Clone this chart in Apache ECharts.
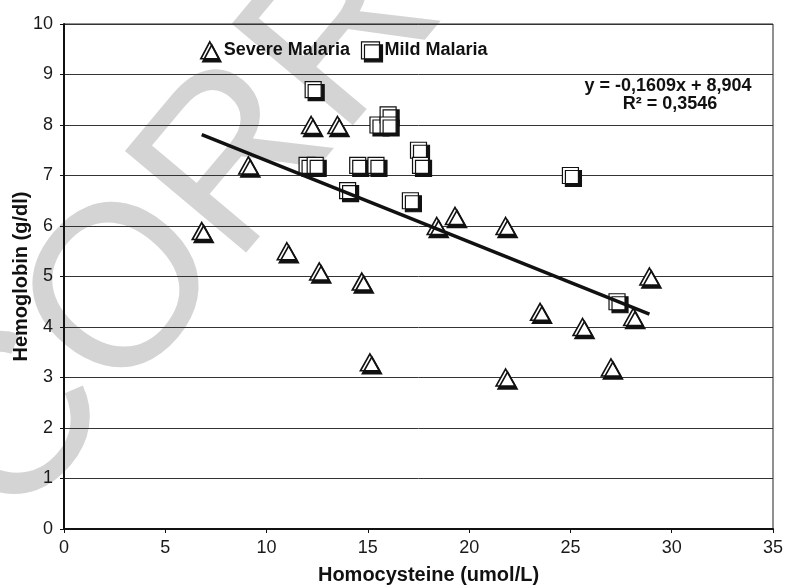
<!DOCTYPE html>
<html>
<head>
<meta charset="utf-8">
<title>Hemoglobin vs Homocysteine</title>
<script src="https://cdn.jsdelivr.net/npm/echarts@6.0.0/dist/echarts.min.js"></script>
<style>
  html, body { margin: 0; padding: 0; background: #ffffff; }
  #chart { width: 786px; height: 585px; }
</style>
</head>
<body>
<div id="chart"></div>
<script>
// severe malaria (triangles)
var severeX = [6.8, 9.1, 11.0, 12.6, 12.2, 13.5, 14.7, 15.1, 18.4, 19.3, 21.8, 21.8, 23.5, 25.6, 27.0, 28.1, 28.9];
var severeY = [5.9, 7.2, 5.5, 5.1, 8.0, 8.0, 4.9, 3.3, 6.0, 6.2, 6.0, 3.0, 4.3, 4.0, 3.2, 4.2, 5.0];
// mild malaria (squares)
var mildX = [12.3, 15.5, 16.0, 16.0, 12.0, 12.4, 14.5, 15.4, 17.5, 17.6, 14.0, 17.1, 25.0, 27.3];
var mildY = [8.7, 8.0, 8.2, 8.0, 7.2, 7.2, 7.2, 7.2, 7.5, 7.2, 6.7, 6.5, 7.0, 4.5];
// linear trend line, as printed on the chart
var trendSlope = -0.1609;
var trendIntercept = 8.904;
var trendLabels = ['y = -0,1609x + 8,904', 'R² = 0,3546'];
var xTicks = [0, 35, 5];   // min, max, step
var yTicks = [0, 10, 1];
var watermark = 'UNCORRECTED PROOF';

var FONT = '"Liberation Sans", Arial, Helvetica, sans-serif';

function pairs (xs, ys) {
  var out = [];
  for (var i = 0; i < xs.length; i++) {
    out.push([xs[i], ys[i]]);
  }
  return out
}

// trend runs over the full x range of all points
var allX = severeX.concat(mildX);
var xLo = Math.min.apply(null, allX);
var xHi = Math.max.apply(null, allX);
var trendData = [
  [xLo, trendSlope * xLo + trendIntercept],
  [xHi, trendSlope * xHi + trendIntercept]
];

// same outline + hard drop shadow look for markers and legend icons
var triStyle = {
  color: '#ffffff',
  opacity: 1,
  borderColor: '#111',
  borderWidth: 1.6,
  shadowColor: '#111',
  shadowBlur: 0,
  shadowOffsetX: 2,
  shadowOffsetY: 3
};
var sqStyle = {
  color: '#ffffff',
  opacity: 1,
  borderColor: '#111',
  borderWidth: 1.2,
  shadowColor: '#111',
  shadowBlur: 0,
  shadowOffsetX: 3,
  shadowOffsetY: 3
};

var chart = echarts.init(document.getElementById('chart'), null, { renderer: 'canvas' });
chart.setOption({
  animation: false,
  backgroundColor: '#ffffff',
  textStyle: { fontFamily: FONT },
  grid: {
    left: 64,
    right: 13,
    top: 24,
    bottom: 56,
    containLabel: false,
    outerBoundsMode: 'none',
    show: true,
    borderColor: '#222',
    borderWidth: 1
  },
  legend: {
    left: 200,
    top: 41,
    padding: 0,
    itemWidth: 18,
    itemHeight: 17,
    itemGap: 11,
    selectedMode: false,
    textStyle: { fontFamily: FONT, fontSize: 18, fontWeight: 'bold', color: '#111' },
    data: [
      { name: 'Severe Malaria', icon: 'triangle', itemStyle: triStyle },
      { name: 'Mild Malaria', icon: 'rect', itemStyle: sqStyle }
    ]
  },
  xAxis: {
    type: 'value',
    min: xTicks[0],
    max: xTicks[1],
    interval: xTicks[2],
    name: 'Homocysteine (umol/L)',
    nameLocation: 'middle',
    nameGap: 36,
    nameTextStyle: { fontFamily: FONT, fontSize: 20, fontWeight: 'bold', color: '#111', padding: [0, 0, 0, 20] },
    axisLine: { lineStyle: { color: '#111', width: 2 } },
    axisTick: { show: true, length: 4, lineStyle: { color: '#111', width: 1 } },
    axisLabel: { fontFamily: FONT, fontSize: 18, color: '#1a1a1a', margin: 10 },
    splitLine: { show: false }
  },
  yAxis: {
    type: 'value',
    min: yTicks[0],
    max: yTicks[1],
    interval: yTicks[2],
    name: 'Hemoglobin (g/dl)',
    nameLocation: 'middle',
    nameGap: 33,
    nameMoveOverlap: false,
    nameTextStyle: { fontFamily: FONT, fontSize: 20, fontWeight: 'bold', color: '#111' },
    axisLine: { show: true, lineStyle: { color: '#111', width: 2 } },
    axisTick: { show: true, length: 4, lineStyle: { color: '#111', width: 1 } },
    axisLabel: { fontFamily: FONT, fontSize: 18, color: '#1a1a1a', margin: 11 },
    splitLine: { show: true, lineStyle: { color: '#333', width: 1 } }
  },
  graphic: [
    {
      // faint diagonal proof stamp behind the plot
      type: 'text',
      x: -250,
      y: 745,
      rotation: 50 * Math.PI / 180,
      z: -10,
      silent: true,
      style: {
        text: watermark,
        font: '230px ' + FONT,
        fill: '#d4d4d4',
        align: 'left',
        verticalAlign: 'middle'
      }
    },
    {
      type: 'text',
      x: 668,
      y: 86,
      style: {
        text: trendLabels[0],
        font: 'bold 18px ' + FONT,
        fill: '#111',
        align: 'center',
        verticalAlign: 'middle'
      }
    },
    {
      type: 'text',
      x: 670,
      y: 104,
      style: {
        text: trendLabels[1],
        font: 'bold 18px ' + FONT,
        fill: '#111',
        align: 'center',
        verticalAlign: 'middle'
      }
    }
  ],
  series: [
    {
      name: 'Severe Malaria',
      type: 'scatter',
      symbol: 'triangle',
      symbolSize: [19, 17],
      itemStyle: triStyle,
      data: pairs(severeX, severeY)
    },
    {
      name: 'Mild Malaria',
      type: 'scatter',
      symbol: 'rect',
      symbolSize: [16, 16],
      itemStyle: sqStyle,
      data: pairs(mildX, mildY)
    },
    {
      name: 'trend',
      type: 'line',
      z: 5,
      symbol: 'none',
      silent: true,
      lineStyle: { color: '#111', width: 3.5 },
      data: trendData
    }
  ]
})
</script>
</body>
</html>
